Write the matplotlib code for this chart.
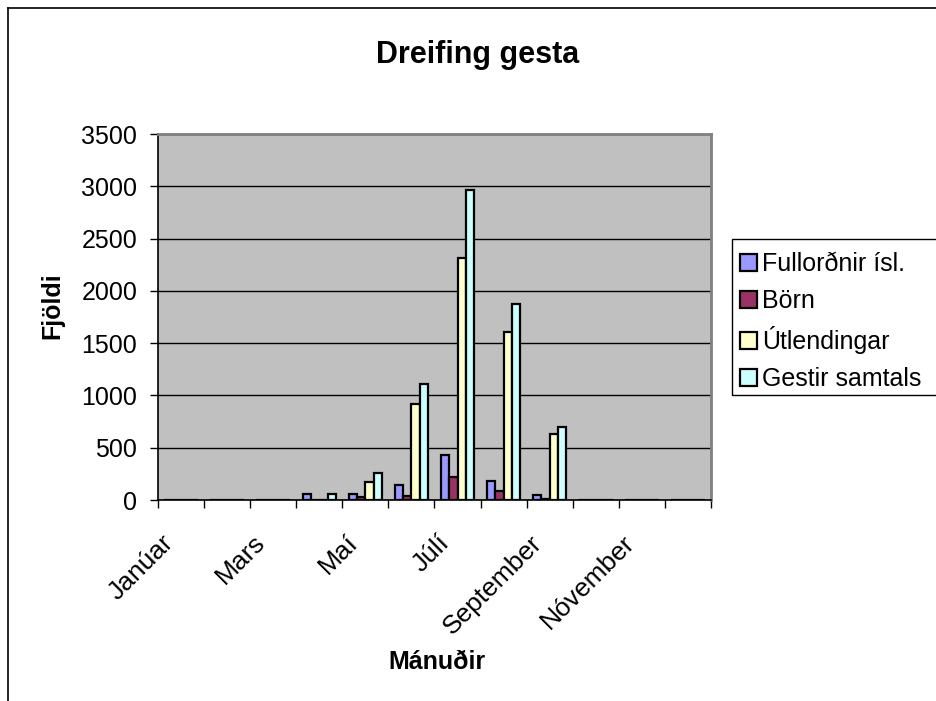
import numpy as np
import matplotlib
matplotlib.use('Agg')
import matplotlib.pyplot as plt
import matplotlib.transforms as mtransforms
from matplotlib.lines import Line2D
from matplotlib.patches import Rectangle

plt.rcParams['font.family'] = ['Liberation Sans', 'DejaVu Sans']

# Data
months = ['Janúar', 'Febrúar', 'Mars', 'Apríl', 'Maí', 'Júní', 'Júlí',
          'Ágúst', 'September', 'Október', 'Nóvember', 'Desember']
fullordnir = [0, 0, 0, 55, 55, 148, 430, 185, 48, 0, 0, 0]
born = [0, 0, 0, 0, 25, 38, 216, 86, 5, 0, 0, 0]
utlendingar = [0, 0, 0, 0, 170, 921, 2317, 1603, 635, 0, 0, 0]
gestir = [0, 0, 0, 55, 260, 1111, 2968, 1873, 698, 0, 0, 0]

series_names = ['Fullorðnir ísl.', 'Börn', 'Útlendingar', 'Gestir samtals']
series = [fullordnir, born, utlendingar, gestir]
colors = ['#9999FF', '#993366', '#FFFFCC', '#CCFFFF']

W, H = 937, 701
fig = plt.figure(figsize=(W / 100, H / 100), dpi=100)
ax = fig.add_axes([158 / W, 1 - 500 / H, (711 - 158) / W, (500 - 134) / H])
ax.set_facecolor('#C0C0C0')
ax.set_axisbelow(True)

x = np.arange(len(months))
bw = 1 / (len(series) + 1.5)
for i, (vals, name, c) in enumerate(zip(series, series_names, colors)):
    ax.bar(x + (i - 1.5) * bw, vals, width=bw, color=c, edgecolor='black',
           linewidth=1.6, label=name, zorder=3)

ax.set_xlim(-0.5, len(months) - 0.5)
ax.set_ylim(0, 3500)
ax.set_yticks(np.arange(0, 3501, 500))
ax.yaxis.grid(True, color='black', linewidth=1)
ax.tick_params(axis='y', labelsize=18, length=6, width=1, pad=9, direction='out')

# category labels every other month, tick marks at category boundaries
ax.set_xticks(x[::2])
ax.set_xticklabels(months[::2])
ax.set_xticks(np.arange(-0.5, len(months), 1), minor=True)
ax.tick_params(axis='x', which='major', length=0, labelsize=19, pad=22)
ax.tick_params(axis='x', which='minor', length=6, width=1, direction='out')
offset = mtransforms.ScaledTranslation(-20 / 100, 0, fig.dpi_scale_trans)
for lbl in ax.get_xticklabels():
    lbl.set_rotation(45)
    lbl.set_ha('right')
    lbl.set_rotation_mode('anchor')
    lbl.set_transform(lbl.get_transform() + offset)

for s in ['left', 'bottom']:
    ax.spines[s].set_color('black')
    ax.spines[s].set_linewidth(1.2)
for s in ['top', 'right']:
    ax.spines[s].set_color('#808080')
    ax.spines[s].set_linewidth(2)

fig.text(478 / W, 1 - 55 / H, 'Dreifing gesta', fontsize=22, fontweight='bold',
         ha='center', va='center')
fig.text(437 / W, 1 - 662 / H, 'Mánuðir', fontsize=18, fontweight='bold',
         ha='center', va='center')
fig.text(52 / W, 1 - 306 / H, 'Fjöldi', fontsize=18, fontweight='bold',
         ha='center', va='center', rotation=90)

# legend box runs off the right edge in the original
fig.add_artist(Rectangle((732 / W, 1 - 395 / H), 250 / W, 156 / H,
                         transform=fig.transFigure, facecolor='white',
                         edgecolor='black', linewidth=1))
leg = fig.legend(loc='upper left', bbox_to_anchor=(735 / W, 1 - 247 / H),
                 fontsize=18, frameon=False, borderaxespad=0,
                 handlelength=0.7, handleheight=0.7, handletextpad=0.2,
                 labelspacing=0.52, borderpad=0.2)

# outer chart border (cropped on the right and bottom)
fig.add_artist(Line2D([8 / W, 8 / W], [0, 1 - 8 / H], color='black', linewidth=1.2))
fig.add_artist(Line2D([8 / W, 1], [1 - 8 / H, 1 - 8 / H], color='black', linewidth=1.2))

fig.savefig('out.png', dpi=100)
